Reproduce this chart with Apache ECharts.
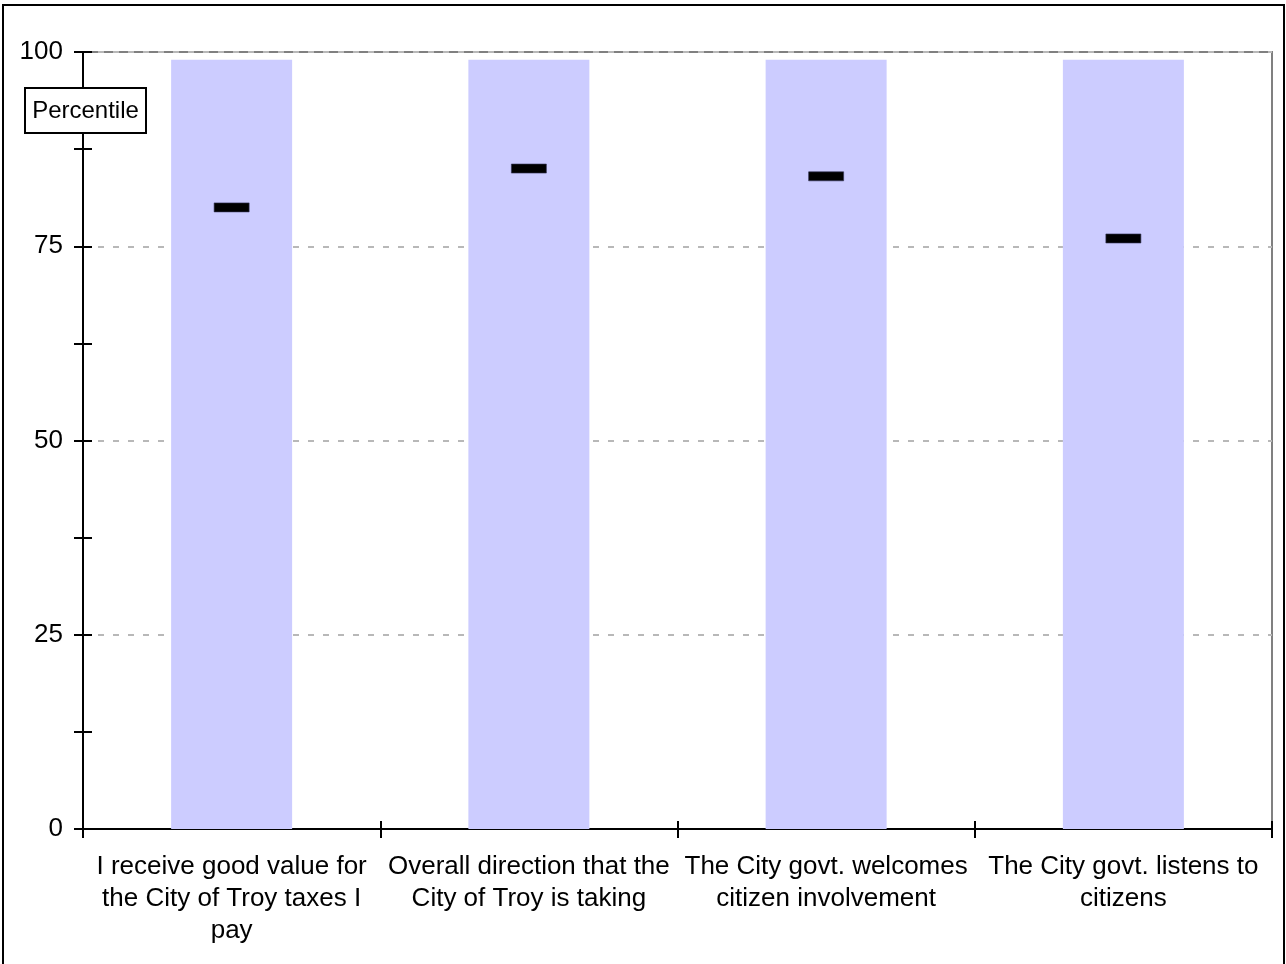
<!DOCTYPE html>
<html>
<head>
<meta charset="utf-8">
<script src="https://cdn.jsdelivr.net/npm/echarts@6/dist/echarts.min.js"></script>
<style>
html,body{margin:0;padding:0;background:#fff;}
#chart{width:1286px;height:964px;}
</style>
</head>
<body>
<div id="chart"></div>
<script>
const categories = [
  "I receive good value for\nthe City of Troy taxes I\npay",
  "Overall direction that the\nCity of Troy is taking",
  "The City govt. welcomes\ncitizen involvement",
  "The City govt. listens to\ncitizens"
];
const rangeTop = [99, 99, 99, 99];
const percentile = [80, 85, 84, 76];
const yTicks = [0, 25, 50, 75, 100];

const FONT = "'Liberation Sans', Arial, sans-serif";
const chart = echarts.init(document.getElementById('chart'), null, {renderer: 'canvas'});

chart.setOption({
  backgroundColor: '#ffffff',
  animation: false,
  graphic: {
    elements: [
      {
        type: 'rect', z: 100, zlevel: 1,
        shape: {x: 3, y: 5, width: 1281, height: 965},
        style: {fill: 'none', stroke: '#000', lineWidth: 2}
      },
      {
        type: 'rect', z: 100, zlevel: 1,
        shape: {x: 25, y: 88, width: 121, height: 45},
        style: {fill: '#fff', stroke: '#000', lineWidth: 2}
      },
      {
        type: 'text', z: 101, zlevel: 1, x: 85.5, y: 111,
        style: {text: 'Percentile', font: '24px ' + FONT, fill: '#000',
                align: 'center', verticalAlign: 'middle'}
      }
    ]
  },
  grid: {
    left: 83, right: 14, top: 52, bottom: 135,
    show: true, borderColor: '#808080', borderWidth: 2, backgroundColor: 'transparent'
  },
  xAxis: [
    {
      type: 'category', data: categories, boundaryGap: true,
      axisLine: {lineStyle: {color: '#000', width: 2}},
      axisTick: {show: true, length: 9, inside: false, lineStyle: {color: '#000', width: 2}},
      axisLabel: {interval: 0, margin: 22, fontSize: 26, lineHeight: 32,
                  fontFamily: FONT, color: '#000', align: 'center'},
      splitLine: {show: false}
    },
    {
      type: 'category', data: categories, boundaryGap: true, position: 'bottom',
      axisLine: {show: false},
      axisTick: {show: true, length: 8, inside: true, lineStyle: {color: '#000', width: 2}},
      axisLabel: {show: false},
      splitLine: {show: false}
    }
  ],
  yAxis: [
    {
      type: 'value', min: 0, max: 100, interval: 12.5,
      axisLine: {show: true, lineStyle: {color: '#000', width: 2}},
      axisTick: {show: true, length: 9, inside: false, lineStyle: {color: '#000', width: 2}},
      axisLabel: {
        margin: 20, fontSize: 26, fontFamily: FONT, color: '#000',
        formatter: function (v) { return yTicks.indexOf(v) >= 0 ? String(v) : ''; }
      },
      splitLine: {show: true, lineStyle: {color: ['#b8b8b8', 'transparent'], width: 2, type: [6, 9]}}
    },
    {
      type: 'value', min: 0, max: 100, interval: 12.5, position: 'left',
      axisLine: {show: false},
      axisTick: {show: true, length: 9, inside: true, lineStyle: {color: '#000', width: 2}},
      axisLabel: {show: false},
      splitLine: {show: false}
    }
  ],
  series: [
    {
      type: 'bar', xAxisIndex: 0, yAxisIndex: 0,
      data: rangeTop, barWidth: 121,
      itemStyle: {color: '#ccccff'}, z: 2
    },
    {
      type: 'scatter', xAxisIndex: 0, yAxisIndex: 0,
      data: percentile, symbol: 'rect', symbolSize: [35, 9],
      itemStyle: {color: '#000', borderColor: '#333355', borderWidth: 0.5, opacity: 1}, z: 5
    }
  ]
});
</script>
</body>
</html>
